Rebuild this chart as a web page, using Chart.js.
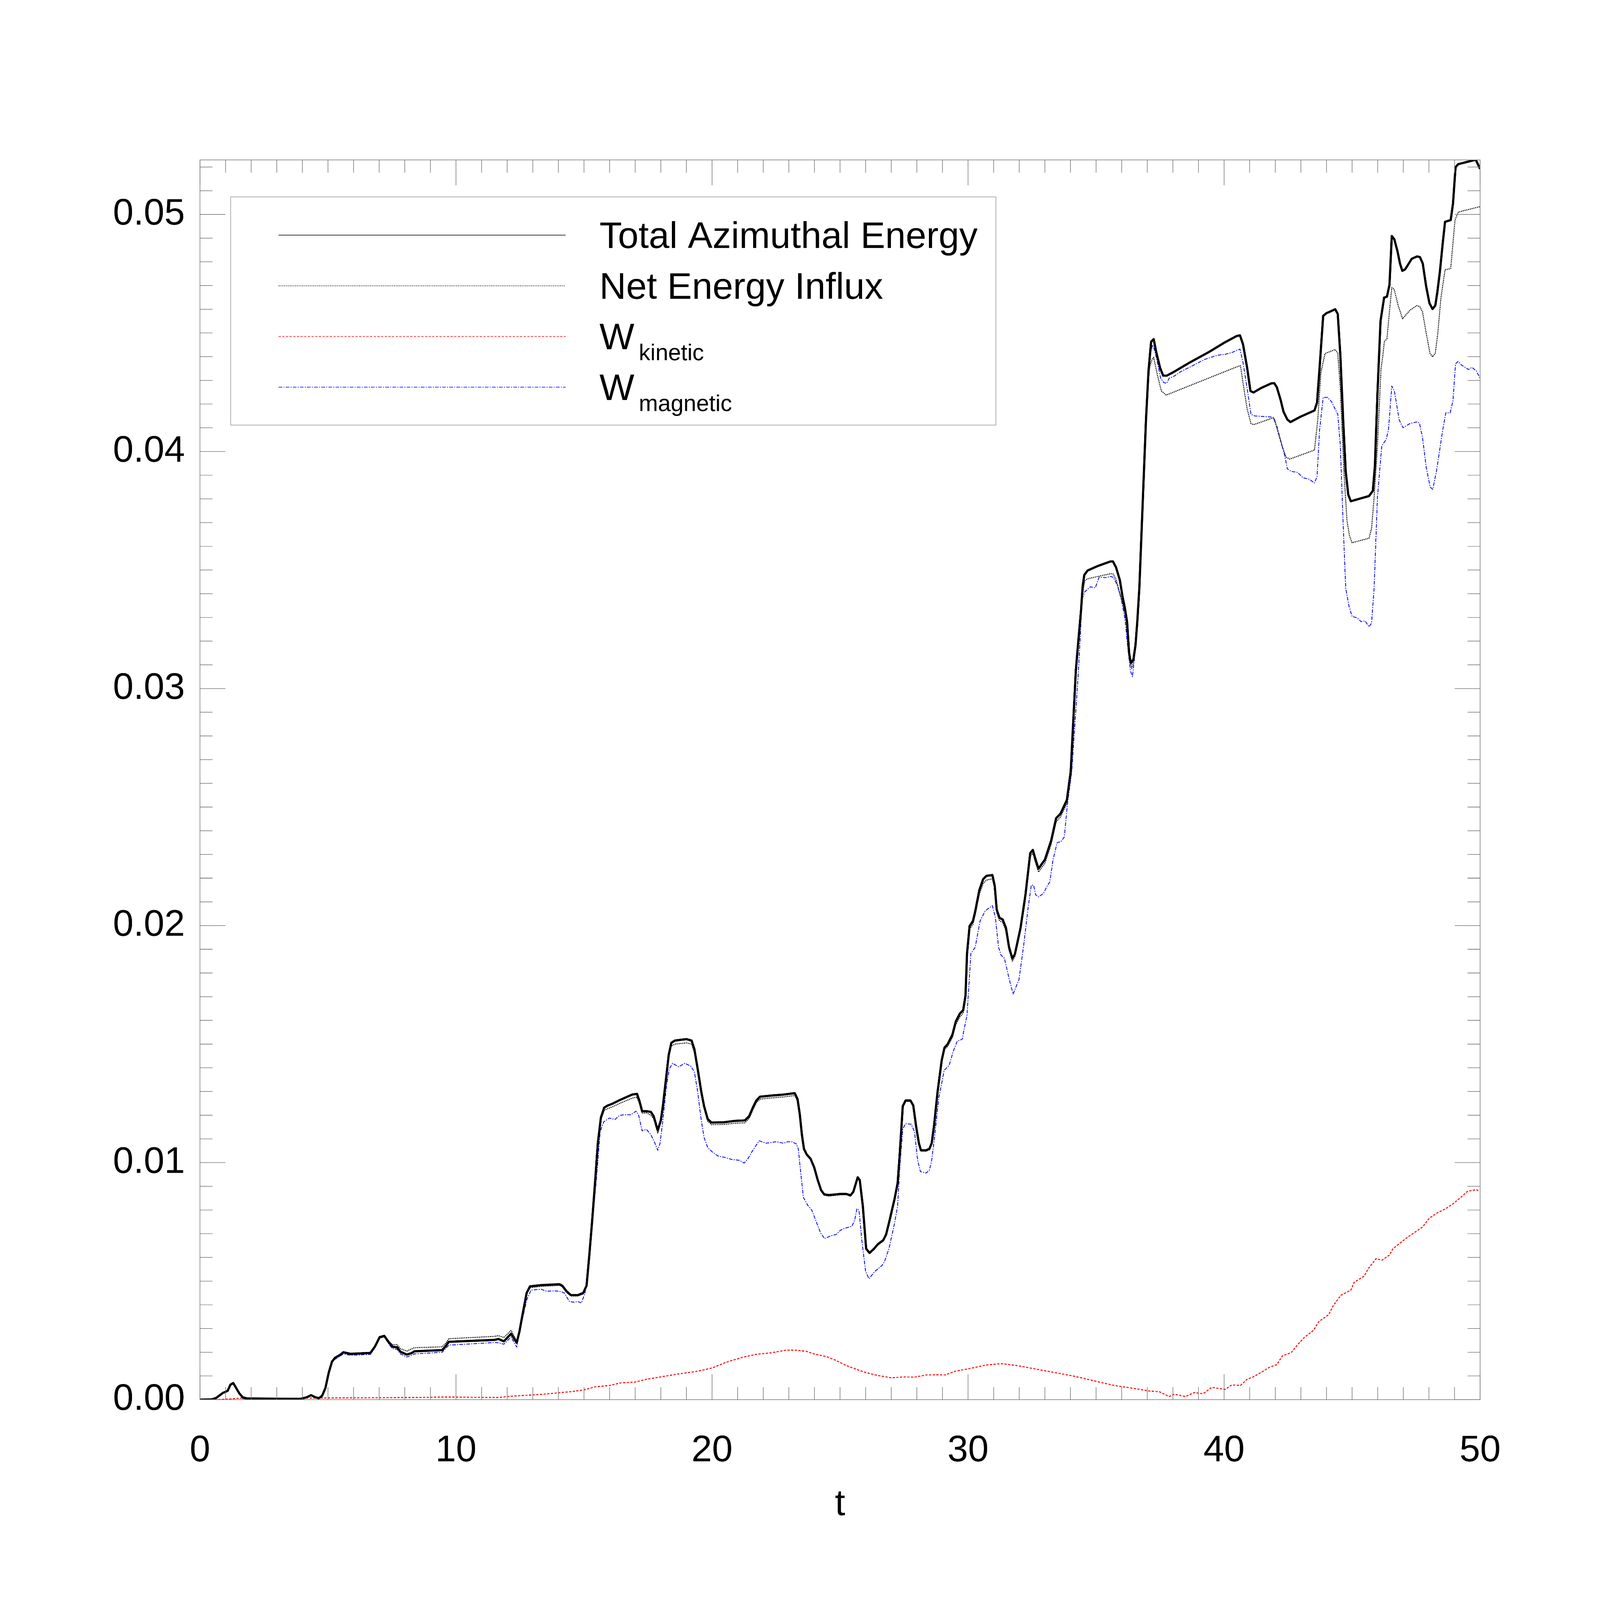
<!DOCTYPE html>
<html>
<head>
<meta charset="utf-8">
<title>Azimuthal energy</title>
<script src="https://cdn.jsdelivr.net/npm/chart.js@4.4.1/dist/chart.umd.min.js"></script>
<style>
  html, body { margin: 0; padding: 0; background: #fff; overflow: hidden; }
  canvas { display: block; }
</style>
</head>
<body>
<canvas id="energyChart" width="7874" height="7874" style="width:100vw;height:100vw"></canvas>
<script>
// --- Data ---
const xTicks = [0, 10, 20, 30, 40, 50];
const yTicks = [0, 0.01, 0.02, 0.03, 0.04, 0.05];

const legendLabels = ['Total Azimuthal Energy', 'Net Energy Influx', 'W', 'W'];
const legendSubs = ['', '', 'kinetic', 'magnetic'];

// Total Azimuthal Energy (thick black)
const tTotal = [
  0, 0.46, 0.63, 0.89, 1.08, 1.19, 1.3, 1.41, 1.54, 1.67,
  1.84, 3.91, 4.17, 4.34, 4.51, 4.64, 4.77, 4.9, 5.03, 5.16,
  5.28, 5.46, 5.6, 5.89, 6.66, 6.84, 7.02, 7.2, 7.39, 7.52,
  7.7, 7.83, 8.08, 8.26, 8.38, 9.46, 9.59, 9.72, 11.5, 11.66,
  11.87, 12.15, 12.37, 12.48, 12.59, 12.76, 12.89, 13.32, 14.04, 14.15,
  14.32, 14.49, 14.76, 14.97, 15.1, 15.21, 15.32, 15.43, 15.54, 15.66,
  15.79, 15.93, 16.1, 16.44, 16.88, 17.07, 17.16, 17.27, 17.44, 17.61,
  17.72, 17.88, 18.0, 18.08, 18.22, 18.31, 18.41, 18.55, 19.0, 19.2,
  19.31, 19.44, 19.58, 19.69, 19.83, 19.98, 20.45, 20.89, 21.28, 21.45,
  21.62, 21.73, 21.87, 22.34, 22.79, 23.23, 23.34, 23.43, 23.51, 23.59,
  23.7, 23.85, 23.99, 24.13, 24.26, 24.38, 24.57, 25.02, 25.24, 25.41,
  25.52, 25.69, 25.77, 25.89, 26.02, 26.15, 26.33, 26.47, 26.69, 26.8,
  26.91, 27.13, 27.25, 27.33, 27.45, 27.56, 27.75, 27.86, 27.97, 28.08,
  28.16, 28.36, 28.49, 28.58, 28.67, 28.81, 28.97, 29.08, 29.2, 29.39,
  29.52, 29.68, 29.81, 29.9, 29.96, 30.06, 30.19, 30.28, 30.44, 30.59,
  30.72, 30.95, 31.04, 31.12, 31.23, 31.35, 31.48, 31.6, 31.73, 31.83,
  32.05, 32.24, 32.43, 32.53, 32.62, 32.75, 33.0, 33.25, 33.44, 33.61,
  33.86, 34.01, 34.21, 34.31, 34.41, 34.48, 34.54, 34.67, 35.07, 35.56,
  35.66, 35.78, 35.93, 36.03, 36.13, 36.21, 36.29, 36.36, 36.46, 36.54,
  36.61, 36.69, 36.79, 36.95, 37.05, 37.15, 37.25, 37.35, 37.5, 37.62,
  37.76, 38.01, 38.62, 39.43, 40.04, 40.49, 40.62, 40.74, 40.9, 41.03,
  41.15, 41.45, 41.86, 41.96, 42.06, 42.21, 42.32, 42.47, 42.59, 42.97,
  43.53, 43.63, 43.73, 43.87, 43.99, 44.34, 44.44, 44.54, 44.65, 44.75,
  44.85, 44.95, 45.3, 45.66, 45.81, 45.89, 45.99, 46.11, 46.25, 46.36,
  46.46, 46.55, 46.65, 46.77, 46.87, 46.96, 47.07, 47.33, 47.54, 47.65,
  47.76, 47.89, 48.02, 48.14, 48.25, 48.33, 48.43, 48.54, 48.63, 48.85,
  48.94, 49.04, 49.14, 49.54, 49.83, 50.0
];
const eTotal = [
  0, 0.00001, 0.00007, 0.00028, 0.00037, 0.00063, 0.0007, 0.0005, 0.00026, 0.0001,
  0.00005, 0.00003, 0.0001, 0.00019, 0.0001, 0.00006, 0.00016, 0.00049, 0.00114, 0.00161,
  0.00177, 0.00188, 0.002, 0.00193, 0.00197, 0.00225, 0.00264, 0.00269, 0.0024, 0.00223,
  0.00221, 0.00202, 0.0019, 0.00196, 0.00204, 0.00209, 0.00225, 0.00244, 0.00252, 0.00256,
  0.00246, 0.00278, 0.0024, 0.00288, 0.00354, 0.0045, 0.00478, 0.00483, 0.00487, 0.00481,
  0.00457, 0.00441, 0.00441, 0.0045, 0.00481, 0.00613, 0.00757, 0.00914, 0.01082, 0.0119,
  0.01232, 0.01241, 0.01248, 0.01266, 0.01287, 0.0129, 0.01262, 0.01217, 0.01217, 0.01214,
  0.01196, 0.01136, 0.01178, 0.01238, 0.0137, 0.01455, 0.01505, 0.01515, 0.01521, 0.01515,
  0.01479, 0.01395, 0.01299, 0.01238, 0.01184, 0.01169, 0.0117, 0.01176, 0.01178, 0.01196,
  0.01238, 0.01262, 0.01278, 0.01283, 0.01287, 0.01293, 0.01268, 0.01202, 0.01118, 0.01058,
  0.01034, 0.01016, 0.0098, 0.00926, 0.00884, 0.00866, 0.00863, 0.00868, 0.00868, 0.00862,
  0.00877, 0.00938, 0.00926, 0.00817, 0.00637, 0.00619, 0.00637, 0.00655, 0.00673, 0.00697,
  0.00745, 0.00847, 0.00914, 0.01034, 0.01238, 0.01262, 0.01262, 0.01241, 0.01154, 0.01082,
  0.01052, 0.01052, 0.01058, 0.01082, 0.01154, 0.01299, 0.01431, 0.01485, 0.01499, 0.0154,
  0.01595, 0.01629, 0.01643, 0.01704, 0.01882, 0.01998, 0.02019, 0.0206, 0.02149, 0.02196,
  0.0221, 0.02213, 0.02169, 0.02067, 0.02032, 0.02026, 0.0199, 0.01909, 0.01861, 0.0188,
  0.0199, 0.02128, 0.02306, 0.02319, 0.02285, 0.0224, 0.02278, 0.0236, 0.02453, 0.02472,
  0.0253, 0.0265, 0.03076, 0.03205, 0.03326, 0.03435, 0.03479, 0.03498, 0.03517, 0.03536,
  0.03536, 0.03511, 0.03457, 0.0339, 0.03336, 0.03282, 0.0315, 0.03107, 0.03123, 0.03183,
  0.03282, 0.03424, 0.03697, 0.04135, 0.04342, 0.04463, 0.04474, 0.04419, 0.04353, 0.0432,
  0.0432, 0.04334, 0.04373, 0.04421, 0.04461, 0.04487, 0.0449, 0.04452, 0.04353, 0.04255,
  0.04249, 0.04268, 0.04288, 0.04288, 0.04271, 0.04217, 0.04168, 0.04135, 0.04124, 0.04146,
  0.04173, 0.04206, 0.04353, 0.04572, 0.04583, 0.046, 0.0458, 0.04408, 0.04135, 0.03916,
  0.03818, 0.0379, 0.03801, 0.03812, 0.03834, 0.03938, 0.04244, 0.0455, 0.04649, 0.04653,
  0.04703, 0.04909, 0.04895, 0.04846, 0.04793, 0.04762, 0.04768, 0.04813, 0.04823, 0.0482,
  0.04793, 0.04698, 0.04626, 0.04601, 0.04616, 0.04673, 0.0476, 0.04879, 0.04969, 0.04976,
  0.05045, 0.05199, 0.05212, 0.05223, 0.05231, 0.05192
];

// Net Energy Influx (black dotted)
const tInflux = [
  0, 0.46, 0.63, 0.89, 1.08, 1.19, 1.3, 1.41, 1.54, 1.67,
  1.84, 3.91, 4.17, 4.34, 4.51, 4.64, 4.77, 4.9, 5.03, 5.16,
  5.28, 5.46, 5.6, 5.89, 6.66, 6.84, 7.02, 7.2, 7.39, 7.52,
  7.7, 7.83, 8.08, 8.26, 8.38, 9.46, 9.59, 9.72, 11.5, 11.66,
  11.87, 12.15, 12.37, 12.48, 12.59, 12.76, 12.89, 13.32, 14.04, 14.15,
  14.32, 14.49, 14.76, 14.97, 15.1, 15.21, 15.32, 15.43, 15.54, 15.66,
  15.79, 15.93, 16.1, 16.44, 16.88, 17.07, 17.16, 17.27, 17.44, 17.61,
  17.72, 17.88, 18.0, 18.08, 18.22, 18.31, 18.41, 18.55, 19.0, 19.2,
  19.31, 19.44, 19.58, 19.69, 19.83, 19.98, 20.45, 20.89, 21.28, 21.45,
  21.62, 21.73, 21.87, 22.34, 22.79, 23.23, 23.34, 23.43, 23.51, 23.59,
  23.7, 23.85, 23.99, 24.13, 24.26, 24.38, 24.57, 25.02, 25.24, 25.41,
  25.52, 25.69, 25.77, 25.89, 26.02, 26.15, 26.33, 26.47, 26.69, 26.8,
  26.91, 27.13, 27.25, 27.33, 27.45, 27.56, 27.75, 27.86, 27.97, 28.08,
  28.16, 28.36, 28.49, 28.58, 28.67, 28.81, 28.97, 29.08, 29.2, 29.39,
  29.52, 29.68, 29.81, 29.9, 29.96, 30.06, 30.19, 30.28, 30.44, 30.59,
  30.72, 30.95, 31.04, 31.12, 31.23, 31.35, 31.48, 31.6, 31.73, 31.83,
  32.05, 32.24, 32.43, 32.53, 32.62, 32.75, 33.0, 33.25, 33.44, 33.61,
  33.86, 34.01, 34.21, 34.31, 34.41, 34.48, 34.56, 34.67, 35.07, 35.56,
  35.66, 35.78, 35.98, 36.13, 36.21, 36.29, 36.39, 36.46, 36.54, 36.61,
  36.69, 36.79, 36.9, 37.0, 37.1, 37.18, 37.25, 37.4, 37.55, 37.74,
  40.54, 40.64, 40.74, 40.9, 41.05, 41.15, 41.86, 41.96, 42.11, 42.26,
  42.42, 42.57, 43.53, 43.66, 43.78, 43.94, 44.34, 44.44, 44.54, 44.68,
  44.8, 44.9, 45.0, 45.66, 45.76, 45.86, 45.99, 46.13, 46.2, 46.26,
  46.36, 46.46, 46.55, 46.64, 46.8, 46.97, 47.26, 47.52, 47.64, 47.75,
  47.89, 48.04, 48.14, 48.25, 48.35, 48.47, 48.63, 48.85, 49.02, 49.15,
  50.0
];
const eInflux = [
  0, 0.00001, 0.00007, 0.00028, 0.00037, 0.00063, 0.0007, 0.0005, 0.00026, 0.0001,
  0.00005, 0.00003, 0.0001, 0.00019, 0.0001, 0.00006, 0.00016, 0.00049, 0.00114, 0.00161,
  0.00177, 0.0019, 0.00202, 0.00196, 0.002, 0.00228, 0.00266, 0.00271, 0.00245, 0.00232,
  0.00232, 0.00215, 0.00205, 0.00214, 0.00219, 0.00223, 0.00237, 0.00257, 0.00267, 0.0027,
  0.00262, 0.00292, 0.00248, 0.0029, 0.00352, 0.00445, 0.00472, 0.00478, 0.00482, 0.00476,
  0.00452, 0.00437, 0.00437, 0.00446, 0.00476, 0.00608, 0.00752, 0.00909, 0.01077, 0.01182,
  0.0122, 0.01228, 0.01235, 0.01252, 0.01272, 0.01276, 0.0125, 0.01208, 0.0121, 0.012,
  0.01185, 0.01125, 0.0117, 0.01228, 0.01358, 0.01443, 0.01492, 0.015, 0.01505, 0.015,
  0.01465, 0.01383, 0.01288, 0.01228, 0.01175, 0.0116, 0.01161, 0.01166, 0.01168, 0.01186,
  0.01228, 0.01252, 0.01268, 0.01273, 0.01277, 0.01283, 0.0126, 0.01196, 0.01113, 0.01053,
  0.0103, 0.01012, 0.00976, 0.00922, 0.0088, 0.00862, 0.00859, 0.00864, 0.00864, 0.00858,
  0.00873, 0.00934, 0.00922, 0.00813, 0.00633, 0.00615, 0.00633, 0.00651, 0.00669, 0.00693,
  0.00741, 0.00843, 0.0091, 0.0103, 0.01234, 0.01258, 0.01258, 0.01237, 0.0115, 0.01078,
  0.01048, 0.01048, 0.01054, 0.01078, 0.0115, 0.01295, 0.01427, 0.01478, 0.0149, 0.01528,
  0.01582, 0.01615, 0.0163, 0.0169, 0.01868, 0.01985, 0.02005, 0.02045, 0.02132, 0.02178,
  0.02192, 0.02197, 0.02155, 0.02055, 0.0202, 0.02014, 0.01978, 0.01897, 0.0185, 0.0187,
  0.01978, 0.02116, 0.02292, 0.02305, 0.0227, 0.02226, 0.02262, 0.02344, 0.02437, 0.02458,
  0.02515, 0.02635, 0.0306, 0.0319, 0.0331, 0.03405, 0.03455, 0.03463, 0.03473, 0.03484,
  0.03484, 0.0346, 0.0338, 0.0332, 0.03265, 0.0314, 0.03085, 0.0311, 0.0317, 0.0327,
  0.0341, 0.0368, 0.0398, 0.04266, 0.0436, 0.04386, 0.04397, 0.0432, 0.04255, 0.04238,
  0.04359, 0.04362, 0.04288, 0.0418, 0.04118, 0.04113, 0.0414, 0.0414, 0.0408, 0.04025,
  0.03976, 0.03968, 0.04006, 0.04135, 0.04332, 0.04413, 0.0443, 0.04415, 0.04266, 0.03916,
  0.03708, 0.03643, 0.03615, 0.03634, 0.03676, 0.03807, 0.04025, 0.0435, 0.04403, 0.04464,
  0.04475, 0.04592, 0.04691, 0.04685, 0.04616, 0.0456, 0.04596, 0.04615, 0.04612, 0.04589,
  0.04502, 0.04415, 0.04399, 0.04415, 0.04502, 0.04649, 0.04766, 0.04772, 0.04977, 0.0501,
  0.05033
];

// W kinetic (red dashed)
const tKinetic = [
  0, 0.63, 1.15, 1.67, 3.05, 4.77, 6.49, 8.21, 9.59, 11.64,
  12.09, 12.54, 13.43, 14.01, 14.43, 14.99, 15.43, 16.01, 16.44, 16.99,
  17.44, 18.0, 18.66, 19.44, 20.01, 20.56, 21.23, 21.78, 22.34, 22.9,
  23.23, 23.68, 24.01, 24.46, 24.79, 25.24, 25.69, 26.02, 26.47, 27.02,
  27.47, 27.91, 28.36, 28.81, 29.1, 29.5, 30.1, 30.7, 31.3, 31.9,
  32.5, 33.3, 34.1, 34.9, 35.7, 36.5, 37.1, 37.46, 37.85, 38.06,
  38.49, 38.84, 39.18, 39.52, 40.04, 40.3, 40.64, 40.9, 41.16, 41.51,
  41.76, 42.06, 42.28, 42.62, 42.88, 43.14, 43.49, 43.7, 44.09, 44.26,
  44.56, 44.95, 45.08, 45.47, 45.64, 45.94, 46.16, 46.46, 46.59, 46.84,
  47.15, 47.45, 47.75, 48.01, 48.31, 48.65, 48.95, 49.21, 49.51, 49.86,
  49.95
];
const eKinetic = [
  0, 0, 0.00003, 0.00007, 0.00006, 0.00007, 0.00008, 0.00009, 0.00011, 0.00009,
  0.00014, 0.00017, 0.00023, 0.00029, 0.00033, 0.00041, 0.00054, 0.0006, 0.00071, 0.00074,
  0.00086, 0.00096, 0.00108, 0.0012, 0.00134, 0.00158, 0.0018, 0.00192, 0.00198, 0.00209,
  0.00209, 0.00204, 0.00192, 0.00182, 0.00168, 0.00144, 0.00126, 0.00114, 0.00102, 0.00092,
  0.00096, 0.00095, 0.00104, 0.00105, 0.00104, 0.0012, 0.00132, 0.00146, 0.00152, 0.00144,
  0.00132, 0.00116, 0.001, 0.0008, 0.0006, 0.00047, 0.00036, 0.00034, 0.00013, 0.00023,
  0.00013, 0.0003, 0.00025, 0.00052, 0.00043, 0.00062, 0.0006, 0.00086, 0.00097, 0.00119,
  0.00136, 0.00148, 0.00185, 0.00198, 0.00233, 0.00263, 0.00292, 0.00329, 0.00359, 0.00396,
  0.0044, 0.00462, 0.00495, 0.00521, 0.00554, 0.00595, 0.00588, 0.0061, 0.00636, 0.00658,
  0.00684, 0.00706, 0.00728, 0.00765, 0.00787, 0.00805, 0.00827, 0.0085, 0.00879, 0.00886,
  0.00879
];

// W magnetic (blue dash-dot)
const tMagnetic = [
  0, 0.46, 0.63, 0.89, 1.08, 1.19, 1.3, 1.41, 1.54, 1.67,
  1.84, 3.91, 4.17, 4.34, 4.51, 4.64, 4.77, 4.9, 5.03, 5.16,
  5.28, 5.46, 5.6, 5.89, 6.66, 6.84, 7.02, 7.2, 7.39, 7.52,
  7.7, 7.83, 8.08, 8.26, 8.38, 9.46, 9.59, 9.72, 11.5, 11.66,
  11.87, 12.15, 12.37, 12.59, 12.76, 12.93, 13.32, 13.54, 13.87, 14.1,
  14.23, 14.43, 14.6, 14.76, 14.9, 15.04, 15.19, 15.32, 15.49, 15.63,
  15.77, 15.99, 16.21, 16.38, 16.6, 16.83, 17.03, 17.13, 17.27, 17.44,
  17.61, 17.77, 17.88, 17.97, 18.08, 18.22, 18.33, 18.46, 18.69, 18.94,
  19.17, 19.31, 19.44, 19.58, 19.69, 19.83, 20.0, 20.23, 20.5, 20.78,
  21.06, 21.25, 21.4, 21.56, 21.84, 22.12, 22.51, 22.79, 22.96, 23.12,
  23.29, 23.37, 23.46, 23.57, 23.74, 23.9, 24.07, 24.24, 24.4, 24.63,
  24.85, 25.02, 25.18, 25.46, 25.57, 25.66, 25.74, 25.85, 26.0, 26.13,
  26.35, 26.63, 26.74, 26.91, 27.13, 27.25, 27.33, 27.45, 27.56, 27.78,
  27.91, 28.03, 28.14, 28.36, 28.49, 28.58, 28.69, 28.86, 29.07, 29.26,
  29.43, 29.58, 29.77, 29.83, 29.96, 30.11, 30.28, 30.47, 30.66, 30.82,
  30.95, 31.07, 31.19, 31.29, 31.42, 31.61, 31.76, 31.99, 32.18, 32.34,
  32.47, 32.56, 32.64, 32.75, 32.94, 33.1, 33.19, 33.32, 33.48, 33.63,
  33.76, 33.88, 34.05, 34.31, 34.46, 34.56, 34.77, 34.97, 35.12, 35.38,
  35.58, 35.68, 35.83, 35.98, 36.13, 36.24, 36.34, 36.42, 36.49, 36.59,
  36.69, 36.79, 36.95, 37.1, 37.2, 37.28, 37.4, 37.52, 37.65, 37.76,
  37.86, 38.01, 38.31, 38.72, 39.23, 39.73, 40.04, 40.34, 40.62, 40.74,
  40.9, 41.05, 41.2, 41.91, 42.06, 42.21, 42.37, 42.47, 42.62, 42.87,
  43.08, 43.33, 43.53, 43.63, 43.73, 43.87, 44.04, 44.19, 44.34, 44.44,
  44.54, 44.65, 44.75, 44.88, 45.0, 45.2, 45.35, 45.51, 45.66, 45.76,
  45.86, 45.99, 46.16, 46.33, 46.42, 46.55, 46.65, 46.84, 46.99, 47.26,
  47.54, 47.63, 47.75, 47.9, 48.05, 48.15, 48.3, 48.54, 48.66, 48.83,
  48.94, 49.04, 49.14, 49.27, 49.54, 49.68, 49.85, 50.0
];
const eMagnetic = [
  0, 0, 0.00005, 0.00026, 0.00035, 0.0006, 0.00067, 0.00046, 0.00022, 0.00005,
  0.00002, 0.00002, 0.00008, 0.00016, 0.00007, 0.00003, 0.00013, 0.00046, 0.0011, 0.00156,
  0.00171, 0.00182, 0.00193, 0.00187, 0.00191, 0.0022, 0.0026, 0.00264, 0.00232, 0.00215,
  0.00212, 0.00193, 0.0018, 0.00187, 0.00193, 0.002, 0.00215, 0.0023, 0.00241, 0.0024,
  0.00234, 0.00264, 0.00222, 0.00336, 0.0042, 0.00462, 0.00466, 0.00457, 0.00459, 0.00456,
  0.0045, 0.00414, 0.00411, 0.00414, 0.00408, 0.0045, 0.00577, 0.00733, 0.00938, 0.0113,
  0.01172, 0.01188, 0.01182, 0.01199, 0.01202, 0.01202, 0.01217, 0.01202, 0.01134, 0.0114,
  0.01118, 0.01082, 0.01052, 0.01082, 0.01178, 0.01323, 0.01395, 0.01419, 0.01404, 0.01419,
  0.01407, 0.01383, 0.01299, 0.01178, 0.01106, 0.01064, 0.01046, 0.01028, 0.01022, 0.01013,
  0.0101, 0.00998, 0.01016, 0.01046, 0.01092, 0.01082, 0.01088, 0.01082, 0.01088, 0.01088,
  0.01079, 0.01058, 0.00962, 0.00853, 0.0082, 0.00799, 0.00751, 0.00703, 0.00679, 0.00691,
  0.00697, 0.00715, 0.00723, 0.00731, 0.00757, 0.00805, 0.008, 0.00673, 0.0054, 0.0051,
  0.0054, 0.00565, 0.00583, 0.00637, 0.00745, 0.00817, 0.00974, 0.01142, 0.01164, 0.01162,
  0.0113, 0.0101, 0.00962, 0.00956, 0.00968, 0.0101, 0.01106, 0.01275, 0.0139, 0.0141,
  0.01472, 0.01513, 0.0152, 0.01554, 0.01622, 0.01882, 0.01909, 0.02019, 0.0206, 0.02075,
  0.02084, 0.02032, 0.01909, 0.01875, 0.01862, 0.01773, 0.01711, 0.01773, 0.01923, 0.0207,
  0.0217, 0.0217, 0.0213, 0.02121, 0.02135, 0.02169, 0.02183, 0.02278, 0.0235, 0.02354,
  0.02374, 0.02511, 0.0265, 0.0307, 0.0338, 0.03408, 0.03429, 0.03425, 0.0347, 0.03468,
  0.03473, 0.03468, 0.03435, 0.0338, 0.03293, 0.03172, 0.03076, 0.0305, 0.03118, 0.0324,
  0.03424, 0.03697, 0.04135, 0.04397, 0.0445, 0.0443, 0.04375, 0.0431, 0.0429, 0.04288,
  0.0431, 0.04315, 0.04337, 0.04359, 0.04388, 0.04406, 0.0441, 0.04419, 0.04432, 0.04375,
  0.04266, 0.04157, 0.0415, 0.04145, 0.04107, 0.04047, 0.03982, 0.03927, 0.03916, 0.03912,
  0.03889, 0.03883, 0.03867, 0.03894, 0.04091, 0.04228, 0.04228, 0.04211, 0.04178, 0.04157,
  0.04025, 0.03697, 0.03424, 0.03347, 0.03304, 0.03298, 0.03282, 0.03285, 0.0326, 0.03276,
  0.03424, 0.03807, 0.04025, 0.0405, 0.04091, 0.04276, 0.04256, 0.04133, 0.041, 0.04118,
  0.04125, 0.0412, 0.04059, 0.0393, 0.0385, 0.0384, 0.0392, 0.04091, 0.04163, 0.04163,
  0.04215, 0.0437, 0.0438, 0.04365, 0.04346, 0.04355, 0.0434, 0.04309
];

// --- Helpers ---
const FONT = '"Liberation Sans", Arial, Helvetica, sans-serif';

function toPoints(ts, vs) {
    if (ts.length !== vs.length) console.warn('length mismatch', ts.length, vs.length);
    return ts.map((t, i) => ({ x: t, y: vs[i] }));
}

// --- Plugins: boxed frame with inward ticks, and the boxed legend ---
const frameTicks = {
    id: 'frameTicks',
    afterDatasetsDraw(chart) {
        const { ctx, chartArea: a, scales: { x, y } } = chart;
        ctx.save();
        ctx.strokeStyle = '#7a7a7a';
        ctx.lineWidth = 3;
        ctx.strokeRect(a.left, a.top, a.right - a.left, a.bottom - a.top);
        ctx.beginPath();
        for (let i = 0; i <= 50; i++) {
            const px = x.getPixelForValue(i);
            const len = i % 10 === 0 ? 125 : 62;
            ctx.moveTo(px, a.bottom); ctx.lineTo(px, a.bottom - len);
            ctx.moveTo(px, a.top); ctx.lineTo(px, a.top + len);
        }
        for (let j = 0; j <= 52; j++) {
            const py = y.getPixelForValue(j / 1000);
            const len = j % 10 === 0 ? 125 : 62;
            ctx.moveTo(a.left, py); ctx.lineTo(a.left + len, py);
            ctx.moveTo(a.right, py); ctx.lineTo(a.right - len, py);
        }
        ctx.stroke();
        ctx.restore();
    }
};

const boxLegend = {
    id: 'boxLegend',
    afterDraw(chart) {
        const ctx = chart.ctx;
        ctx.save();
        ctx.strokeStyle = '#9a9a9a';
        ctx.lineWidth = 3;
        ctx.strokeRect(1135, 969, 3766, 1123);
        chart.data.datasets.forEach((ds, i) => {
            const yRow = 1157 + i * 249.5;
            ctx.strokeStyle = ds.borderColor;
            ctx.lineWidth = 3;
            ctx.setLineDash(ds.borderDash || []);
            ctx.beginPath();
            ctx.moveTo(1371, yRow);
            ctx.lineTo(2783, yRow);
            ctx.stroke();
            ctx.setLineDash([]);
            ctx.fillStyle = '#000';
            ctx.textBaseline = 'alphabetic';
            ctx.font = `182px ${FONT}`;
            ctx.fillText(legendLabels[i], 2950, yRow + 63);
            if (legendSubs[i]) {
                const w = ctx.measureText(legendLabels[i]).width;
                ctx.font = `113px ${FONT}`;
                ctx.fillText(legendSubs[i], 2950 + w + 22, yRow + 117);
            }
        });
        ctx.restore();
    }
};

// --- Chart ---
function initChart() {
    const ctx = document.getElementById('energyChart').getContext('2d');
    new Chart(ctx, {
        type: 'line',
        data: {
            datasets: [
                {
                    label: legendLabels[0],
                    data: toPoints(tTotal, eTotal),
                    borderColor: '#000000',
                    borderWidth: 11
                },
                {
                    label: legendLabels[1],
                    data: toPoints(tInflux, eInflux),
                    borderColor: '#000000',
                    borderWidth: 5,
                    borderDash: [5, 4]
                },
                {
                    label: legendLabels[2] + legendSubs[2],
                    data: toPoints(tKinetic, eKinetic),
                    borderColor: '#ff0000',
                    borderWidth: 5,
                    borderDash: [11, 7]
                },
                {
                    label: legendLabels[3] + legendSubs[3],
                    data: toPoints(tMagnetic, eMagnetic),
                    borderColor: '#0000ff',
                    borderWidth: 4,
                    borderDash: [18, 6, 5, 6]
                }
            ]
        },
        options: {
            responsive: false,
            animation: false,
            devicePixelRatio: 1,
            layout: { padding: { left: 0, top: 787, right: 590, bottom: 300 } },
            elements: {
                point: { radius: 0 },
                line: { tension: 0, fill: false, borderCapStyle: 'butt', borderJoinStyle: 'round' }
            },
            plugins: {
                legend: { display: false },
                tooltip: { enabled: false }
            },
            scales: {
                x: {
                    type: 'linear',
                    min: 0,
                    max: 50,
                    afterBuildTicks: s => { s.ticks = xTicks.map(v => ({ value: v })); },
                    afterFit: s => { s.height = 686; },
                    grid: { display: false, drawTicks: false },
                    border: { display: false },
                    ticks: {
                        color: '#000',
                        padding: 144,
                        maxRotation: 0,
                        font: { family: FONT, size: 182 },
                        callback: v => String(v)
                    },
                    title: {
                        display: true,
                        text: 't',
                        color: '#000',
                        padding: { top: 0, bottom: 58 },
                        font: { family: FONT, size: 182 }
                    }
                },
                y: {
                    type: 'linear',
                    min: 0,
                    max: 0.0523,
                    afterBuildTicks: s => { s.ticks = yTicks.map(v => ({ value: v })); },
                    afterFit: s => { s.width = 984; },
                    grid: { display: false, drawTicks: false },
                    border: { display: false },
                    ticks: {
                        color: '#000',
                        padding: 74,
                        font: { family: FONT, size: 182 },
                        callback: v => v.toFixed(2)
                    }
                }
            }
        },
        plugins: [frameTicks, boxLegend]
    });
}

document.addEventListener('DOMContentLoaded', () => {
    try {
        initChart();
    } catch (e) {
        console.error('Chart init failed:', e);
    }
});
</script>
</body>
</html>
